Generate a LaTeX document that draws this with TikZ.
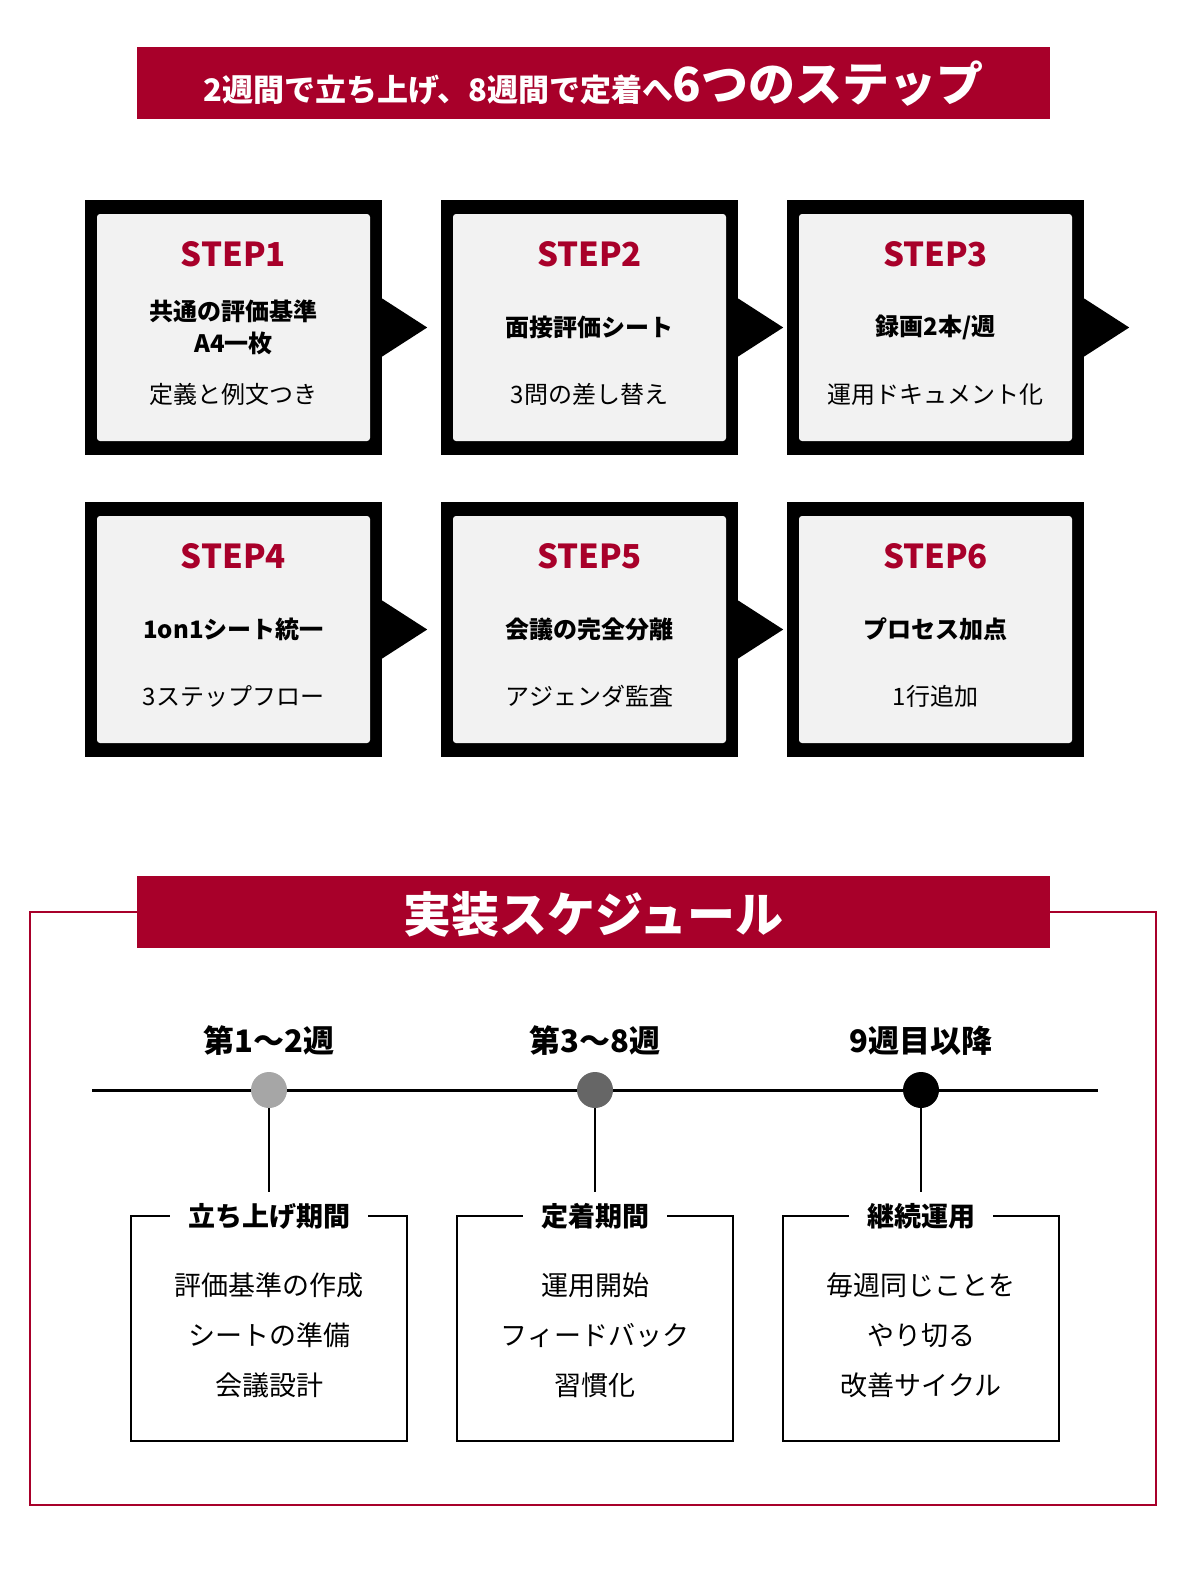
\documentclass[tikz,border=0pt]{standalone}
\usepackage{fontspec}
\setmainfont{Noto Sans CJK JP}
\usetikzlibrary{positioning}
\definecolor{brand}{HTML}{A8002A}
\definecolor{panel}{HTML}{F2F2F2}
\tikzset{
  outerbox/.style={fill=black, minimum width=297pt, minimum height=255pt, inner sep=0pt},
  innerbox/.style={fill=panel, rounded corners=3pt, minimum width=273pt, minimum height=227pt, inner sep=0pt},
  steptitle/.style={text=brand, font=\fontsize{33}{36}\selectfont\bfseries},
  stepmain/.style={font=\fontsize{24}{32}\selectfont\bfseries, align=center},
  stepsub/.style={font=\fontsize{24}{28}\selectfont},
  period/.style={font=\fontsize{31}{36}\selectfont\bfseries},
  dot/.style={circle, minimum size=36pt, inner sep=0pt},
  phasebox/.style={draw, line width=1.5pt, minimum width=276pt, minimum height=225pt, inner sep=0pt},
  phasetitle/.style={fill=white, inner xsep=18pt, font=\fontsize{27}{30}\selectfont\bfseries},
  phaseitem/.style={font=\fontsize{27}{50}\selectfont, align=center}
}
\begin{document}
\begin{tikzpicture}[x=1pt,y=-1pt]
  \useasboundingbox (0,0) rectangle (1200,1584);

  % Title banner
  \fill[brand] (137,47) rectangle (1050,119);
  \node[text=white, font=\bfseries] (title) at (593.5,84)
    {\fontsize{31}{36}\selectfont 2週間で立ち上げ、8週間で定着へ\fontsize{47}{50}\selectfont 6つのステップ};

  % Steps
  \foreach \n/\cx/\cy/\main/\sub/\arr in {
      1/233.5/327.5/{共通の評価基準\\A4一枚}/{定義と例文つき}/1,
      2/589.5/327.5/{面接評価シート}/{3問の差し替え}/1,
      3/935.5/327.5/{録画2本/週}/{運用ドキュメント化}/1,
      4/233.5/629.5/{1on1シート統一}/{3ステップフロー}/1,
      5/589.5/629.5/{会議の完全分離}/{アジェンダ監査}/1,
      6/935.5/629.5/{プロセス加点}/{1行追加}/0} {
    \node[outerbox] (box\n) at (\cx,\cy) {};
    \node[innerbox] (panel\n) at (\cx,\cy) {};
    \node[steptitle] (step\n) at (\cx,\cy-73) {STEP\n};
    \node[stepmain] (main\n) at (\cx,\cy) {\main};
    \node[stepsub] (sub\n) at (\cx,\cy+67) {\sub};
    \ifnum\arr=1
      \fill (box\n.east) ++(0,-29) -- ++(45,29) -- ++(-45,29) -- cycle;
    \fi
  }

  % Schedule frame
  \draw[brand, line width=1.2pt] (30,912) rectangle (1156,1505);
  \fill[brand] (137,876) rectangle (1050,948);
  \node[text=white, font=\fontsize{48}{52}\selectfont\bfseries] (sched) at (593.5,914) {実装スケジュール};

  % Timeline
  \coordinate (tl) at (92,1090);
  \coordinate (tr) at (1098,1090);
  \draw[line width=3pt] (tl) -- (tr);

  \foreach \k/\x/\c/\lab/\head/\items in {
      1/269/black!35/{第1〜2週}/{立ち上げ期間}/{評価基準の作成\\シートの準備\\会議設計},
      2/595/black!60/{第3〜8週}/{定着期間}/{運用開始\\フィードバック\\習慣化},
      3/921/black/{9週目以降}/{継続運用}/{毎週同じことを\\やり切る\\改善サイクル}} {
    \node[dot, fill=\c] (dot\k) at (\x,1090) {};
    \node[period] (per\k) at (\x,1041) {\lab};
    \node[phasebox] (phase\k) at (\x,1328.5) {};
    \node[phasetitle] (head\k) at (\x,1216) {\head};
    \node[phaseitem] (items\k) at (\x,1335) {\items};
    \coordinate (drop\k) at (\x,1192);
    \draw[line width=1.5pt] (dot\k) -- (drop\k);
  }
\end{tikzpicture}
\end{document}
